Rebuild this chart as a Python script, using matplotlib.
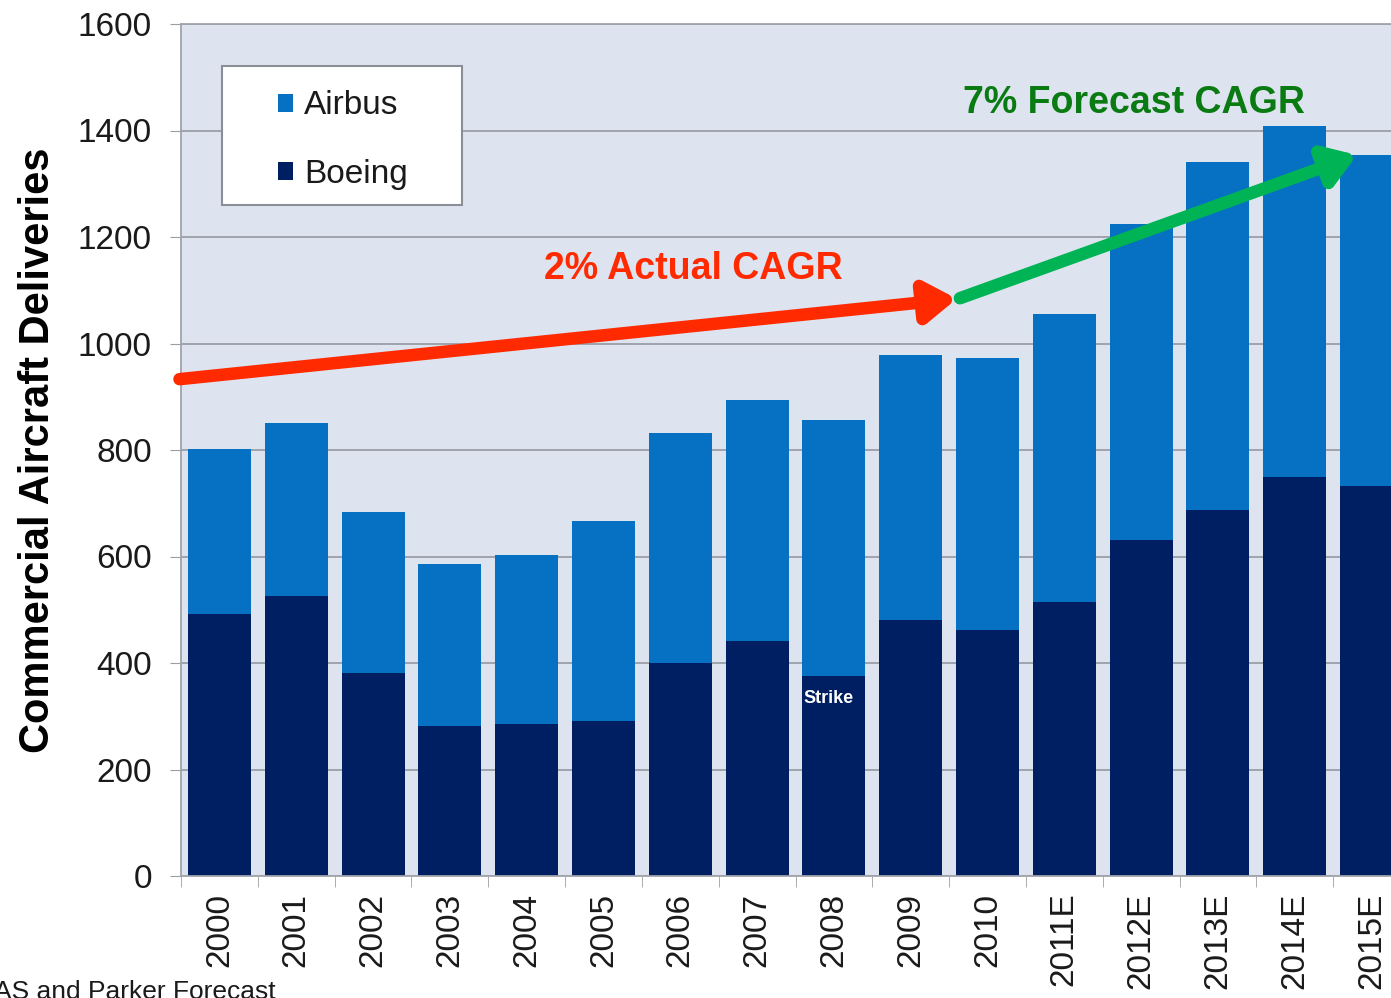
import matplotlib.pyplot as plt
from matplotlib.patches import Rectangle
import numpy as np

plt.rcParams['font.family'] = ['Liberation Sans', 'DejaVu Sans']

years = ['2000', '2001', '2002', '2003', '2004', '2005', '2006', '2007',
         '2008', '2009', '2010', '2011E', '2012E', '2013E', '2014E', '2015E']
boeing = [492, 526, 381, 282, 285, 291, 400, 441, 376, 481, 462, 515, 631, 687, 749, 732]
totals = [802, 851, 684, 586, 603, 667, 832, 894, 856, 978, 973, 1055, 1224, 1341, 1408, 1354]
airbus = [t - b for t, b in zip(totals, boeing)]

fig = plt.figure(figsize=(13.91, 9.98), dpi=100)
ax = fig.add_axes([181 / 1391, 1 - 876 / 998, 1229 / 1391, 852 / 998])
ax.set_facecolor('#dde4ef')

x = np.arange(len(years))
ax.bar(x, boeing, width=0.82, color='#001f62', label='Boeing', zorder=2)
ax.bar(x, airbus, width=0.82, bottom=boeing, color='#0670c2', label='Airbus', zorder=2)

ax.set_xlim(-0.5, len(years) - 0.5)
ax.set_ylim(0, 1600)
ax.set_yticks(range(0, 1601, 200))
ax.yaxis.grid(True, color='#9a9ea6', linewidth=1.3, zorder=1)
ax.set_xticks(x)
ax.set_xticklabels(years, rotation=90, fontsize=24, color='#1a1a1a')
ax.tick_params(axis='x', length=0, pad=12)
ax.set_xticks(np.arange(-0.5, len(years), 1), minor=True)
ax.tick_params(axis='x', which='minor', length=8, color='#a0a0a0')
ax.tick_params(axis='y', labelsize=24, labelcolor='#1a1a1a', length=8, color='#9a9ea6', pad=13)
for s in ax.spines.values():
    s.set_color('#a0a4aa')
    s.set_linewidth(1.3)
ax.spines['right'].set_visible(False)

ax.set_ylabel('Commercial Aircraft Deliveries', fontsize=30, fontweight='bold', labelpad=14)

# legend: frame drawn as a box, entries placed inside
ax.add_patch(Rectangle((0.0334, 0.7876), 0.1952, 0.1631, transform=ax.transAxes,
                       facecolor='white', edgecolor='#8a8e96', linewidth=1.5, zorder=4))
handles, labels = ax.get_legend_handles_labels()
leg = ax.legend(handles[::-1], labels[::-1], loc='upper left', bbox_to_anchor=(0.079, 0.922),
                fontsize=24, frameon=False, handlelength=0.45, handleheight=0.45,
                borderpad=0, labelspacing=1.12, handletextpad=0.33, borderaxespad=0)
leg.set_zorder(5)
for t in leg.get_texts():
    t.set_color('#1a1a1a')

# CAGR arrows
ax.annotate('', xy=(9.6, 1084), xytext=(-0.52, 933),
            arrowprops=dict(arrowstyle='-|>,head_length=1.8,head_width=1.2', color='#ff2a00', lw=9,
                            shrinkA=0, shrinkB=0), zorder=5)
ax.annotate('', xy=(14.81, 1354), xytext=(9.64, 1085),
            arrowprops=dict(arrowstyle='-|>,head_length=1.8,head_width=1.2', color='#00b456', lw=9,
                            shrinkA=0, shrinkB=0), zorder=5)
ax.text(6.17, 1140, '2% Actual CAGR', color='#ff2a00', fontsize=27, fontweight='bold',
        ha='center', va='center', zorder=6)
ax.text(11.91, 1451, '7% Forecast CAGR', color='#0a7a12', fontsize=27, fontweight='bold',
        ha='center', va='center', zorder=6)
ax.text(7.93, 334, 'Strike', color='white', fontsize=13, fontweight='bold',
        ha='center', va='center', zorder=6)

fig.text(-6 / 1391, 1 - 992 / 998, 'AS and Parker Forecast', fontsize=19, color='#1a1a1a',
         ha='left', va='center')

fig.savefig('out.png', dpi=100)
